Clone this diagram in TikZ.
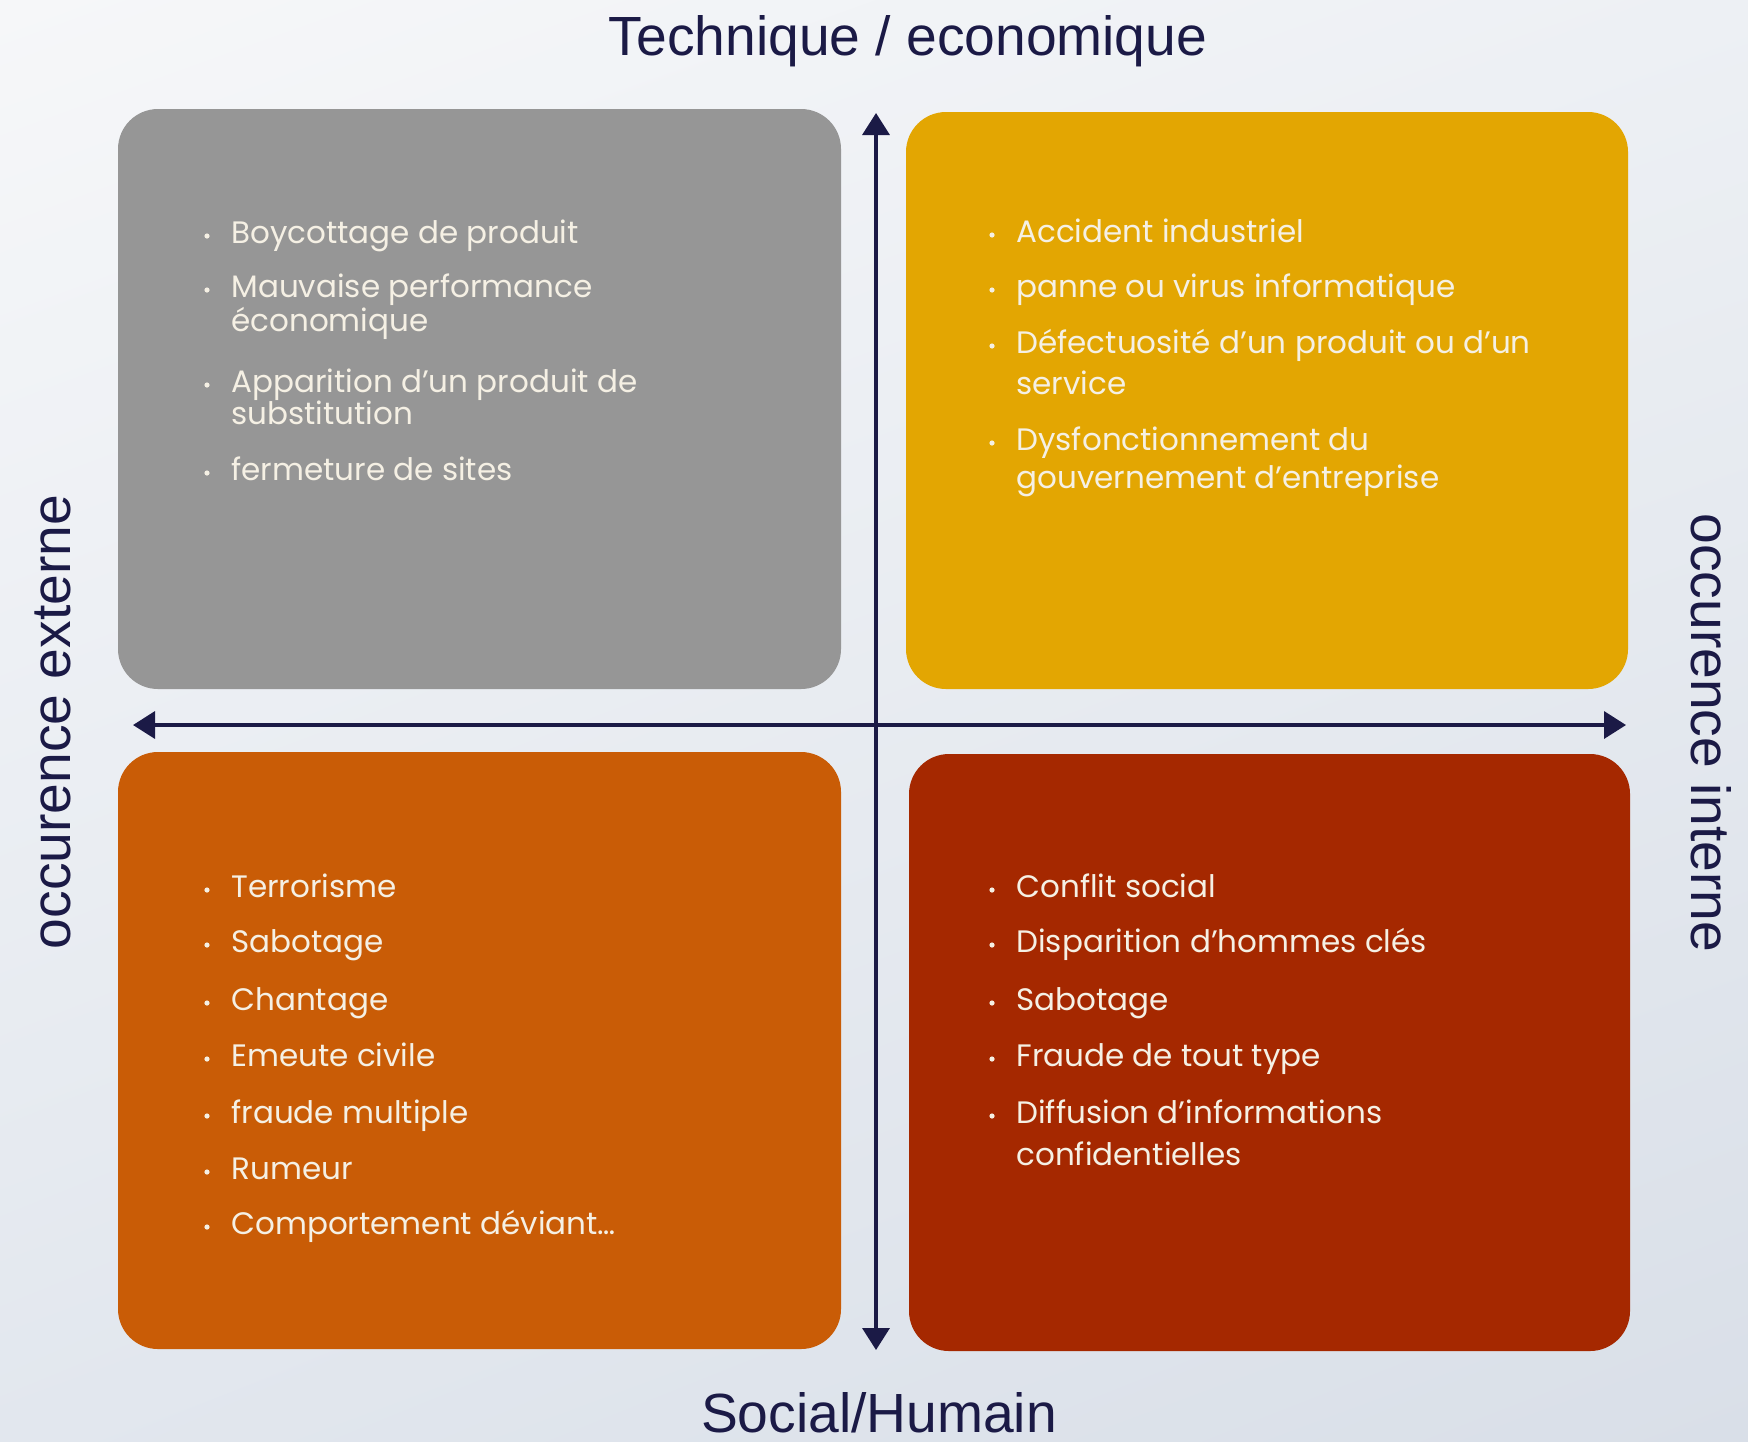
\documentclass[tikz,border=0pt]{standalone}
\usepackage{fontspec}
\setmainfont{Liberation Sans}
\newfontfamily\itemfont{Poppins}
\usetikzlibrary{arrows.meta,shadings}
\definecolor{axisblue}{HTML}{1B1A46}
\definecolor{itemtext}{HTML}{F5F0E4}
\definecolor{boxgray}{HTML}{969696}
\definecolor{boxyellow}{HTML}{E3A602}
\definecolor{boxorange}{HTML}{C95C06}
\definecolor{boxred}{HTML}{A52800}
\definecolor{bgtl}{HTML}{F6F7F9}
\definecolor{bgtr}{HTML}{EDF0F4}
\definecolor{bgbl}{HTML}{E2E7EE}
\definecolor{bgbr}{HTML}{D9DFE8}
\begin{document}
\begin{tikzpicture}[x=0.5pt, y=-0.5pt,
  quadrant/.style={fill=#1, rounded corners=20pt},
  axislabel/.style={text=axisblue, font=\fontsize{27.6}{32}\selectfont, inner sep=0pt},
  risk/.style={text=itemtext, font=\itemfont\fontsize{15.5}{18}\selectfont, anchor=base west, inner sep=0pt},
  axis/.style={draw=axisblue, line width=1.75pt,
    {Triangle[length=11pt,width=13.5pt]}-{Triangle[length=11pt,width=13.5pt]}}]
  \useasboundingbox (0,0) rectangle (1748,1441);
  \shade[upper left=bgtl, upper right=bgtr, lower left=bgbl, lower right=bgbr]
    (0,0) rectangle (1748,1441);

  % quadrants
  \fill[quadrant=boxgray]   (118,109) rectangle (841,689);
  \fill[quadrant=boxyellow] (906,112) rectangle (1628,689);
  \fill[quadrant=boxorange] (118,752) rectangle (841,1349);
  \fill[quadrant=boxred]    (909,754) rectangle (1630,1351);

  % axes
  \coordinate (top) at (876,113);
  \coordinate (bottom) at (876,1350);
  \coordinate (left) at (133,725);
  \coordinate (right) at (1626,725);
  \draw[axis] (bottom) -- (top);
  \draw[axis] (left) -- (right);

  \node[axislabel, anchor=base] (techeco) at (908,55) {Technique / economique};
  \node[axislabel, anchor=base] (social) at (879,1432) {Social/Humain};
  \node[axislabel, anchor=base, rotate=90] (externe) at (70,722) {occurence externe};
  \node[axislabel, anchor=base, rotate=-90] (interne) at (1691,733) {occurence interne};

  % risk lists
  \foreach \y/\hasdot/\txt in {243/1/Boycottage de produit, 297/1/Mauvaise performance,
      331/0/économique, 392/1/Apparition d’un produit de, 424/0/substitution,
      480/1/fermeture de sites}{
    \node[risk] (exttech\y) at (231,\y) {\txt};
    \ifnum\hasdot=1 \fill[itemtext] ([xshift=-12pt,yshift=3.5pt]exttech\y.base west) circle (2.6); \fi
  }
  \foreach \y/\hasdot/\txt in {242/1/Accident industriel, 297/1/panne ou virus informatique,
      353/1/Défectuosité d’un produit ou d’un, 394/0/service,
      450/1/Dysfonctionnement du, 488/0/gouvernement d’entreprise}{
    \node[risk] (inttech\y) at (1016,\y) {\txt};
    \ifnum\hasdot=1 \fill[itemtext] ([xshift=-12pt,yshift=3.5pt]inttech\y.base west) circle (2.6); \fi
  }
  \foreach \y/\hasdot/\txt in {897/1/Terrorisme, 952/1/Sabotage, 1010/1/Chantage,
      1066/1/Emeute civile, 1123/1/fraude multiple, 1179/1/Rumeur,
      1234/1/Comportement déviant…}{
    \node[risk] (extsoc\y) at (231,\y) {\txt};
    \ifnum\hasdot=1 \fill[itemtext] ([xshift=-12pt,yshift=3.5pt]extsoc\y.base west) circle (2.6); \fi
  }
  \foreach \y/\hasdot/\txt in {897/1/Conflit social, 952/1/Disparition d’hommes clés,
      1010/1/Sabotage, 1066/1/Fraude de tout type, 1123/1/Diffusion d’informations,
      1165/0/confidentielles}{
    \node[risk] (intsoc\y) at (1016,\y) {\txt};
    \ifnum\hasdot=1 \fill[itemtext] ([xshift=-12pt,yshift=3.5pt]intsoc\y.base west) circle (2.6); \fi
  }
\end{tikzpicture}
\end{document}
